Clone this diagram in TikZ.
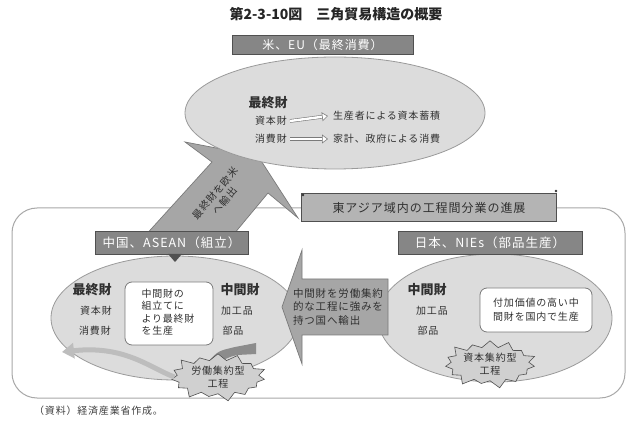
\documentclass[tikz,border=0pt]{standalone}
\usepackage{fontspec}
\newfontfamily\jp{Noto Sans CJK JP}
\newfontfamily\jpw{Noto Sans CJK JP}[LetterSpace=8]
\usetikzlibrary{shapes.symbols,arrows.meta}
\definecolor{txt}{HTML}{303030}
\definecolor{lblfill}{HTML}{868686}
\definecolor{lbledge}{HTML}{505050}
\definecolor{ellfill}{HTML}{DCDCDC}
\definecolor{elledge}{HTML}{9A9A9A}
\definecolor{arrfill}{HTML}{A6A6A6}
\definecolor{arredge}{HTML}{7A7A7A}
\definecolor{eafill}{HTML}{B4B4B4}
\definecolor{burstfill}{HTML}{D0D0D0}
\definecolor{outeredge}{HTML}{A8A8A8}
\definecolor{darkwedge}{HTML}{8C8C8C}
\definecolor{curvfill}{HTML}{BDBDBD}
\tikzset{
  lblbox/.style={draw=lbledge, line width=0.8pt, fill=lblfill, text=white,
    font=\jpw\fontsize{12.5}{14}\selectfont, inner sep=0pt},
  eabox/.style={draw=lbledge, line width=1pt, fill=eafill, text=txt,
    font=\jpw\fontsize{12}{14}\selectfont, inner sep=0pt},
  ellface/.style={draw=elledge, line width=0.8pt, fill=ellfill},
  blockarr/.style={draw=arredge, line width=0.7pt, fill=arrfill},
  outerframe/.style={draw=outeredge, line width=1pt, rounded corners=25pt},
  smalltxt/.style={font=\jpw\fontsize{10}{12.5}\selectfont, text=txt},
  boldtxt/.style={font=\jp\bfseries\fontsize{13}{15}\selectfont, text=txt},
  innerbox/.style={draw=arredge, line width=0.8pt, fill=white, rounded corners=7pt, inner sep=0pt},
  burstnode/.style={starburst, starburst points=15, starburst point height=9pt,
    draw=lbledge, line width=0.6pt, fill=burstfill, inner sep=1pt, align=center,
    font=\jpw\fontsize{10}{12.5}\selectfont, text=txt},
  hollowarr/.style={draw=arredge, double=white, double distance=2.4pt, line width=0.6pt,
    -{Triangle[open, length=6pt, width=9pt, fill=white]}},
}
\begin{document}
\begin{tikzpicture}[x=1pt,y=-1pt, every node/.style={font=\jp, text=txt, inner sep=0pt}]
\useasboundingbox[fill=white] (0,0) rectangle (632,430);

% title
\node[font=\jp\bfseries\fontsize{14}{16}\selectfont, text=black!85] (title) at (336,14) {第2-3-10図　三角貿易構造の概要};

% outer frame
\draw[outerframe] (12,208) rectangle (625,398);

% diagonal block arrow (to US/EU)
\draw[blockarr] (143,238) -- (212,162) -- (185,142) -- (258,156)
  -- (298,218) -- (268,193) -- (219,252) -- cycle;
\node[font=\jpw\fontsize{10}{12}\selectfont, rotate=50, align=center] (exp) at (220,197) {最終財を欧米\\へ輸出};

% top ellipse
\draw[ellface] (335,113) ellipse [x radius=150pt, y radius=56pt];
\node[lblbox, font=\jpw\fontsize{12}{14}\selectfont, minimum width=181pt, minimum height=19pt] (us) at (322.5,44.5) {米、EU（最終消費）};
\node[boldtxt] (fin) at (268,103) {最終財};
\node[smalltxt] (cap) at (271,121) {資本財};
\node[smalltxt, anchor=west] (acc) at (333,116) {生産者による資本蓄積};
\node[smalltxt] (con) at (271,139) {消費財};
\node[smalltxt, anchor=west] (hh) at (333,139) {家計、政府による消費};
\draw[hollowarr] ([xshift=3pt]cap.east) -- ([xshift=-5pt]acc.west);
\draw[hollowarr] ([xshift=3pt]con.east) -- ([xshift=-5pt]hh.west);

% East Asia box
\node[eabox, minimum width=255pt, minimum height=28pt] (ea) at (429,208) {東アジア域内の工程間分業の進展};
\fill[black!80] (303,195) circle (1.3pt) (556,191) circle (1.3pt);

% left and right ellipses
\draw[ellface] (175,318) ellipse [x radius=124pt, y radius=62pt];
\draw[ellface] (495,318) ellipse [x radius=117pt, y radius=64pt];

% left block arrow
\draw[blockarr] (282,307) -- (302,250) -- (302,279) -- (388,279) -- (388,335)
  -- (302,335) -- (302,364) -- cycle;
\node[smalltxt, align=left, font=\jpw\fontsize{10.5}{13.5}\selectfont] (mid) at (338,307) {中間財を労働集約\\的な工程に強みを\\持つ国へ輸出};

% labels
\node[lblbox, minimum width=153pt, minimum height=23pt] (cn) at (171.5,242.5) {中国、ASEAN（組立）};
\fill[lbledge] (168,254) -- (182,254) -- (175,262) -- cycle;
\node[lblbox, minimum width=184pt, minimum height=23pt] (jp) at (490,242.5) {日本、NIEs（部品生産）};

% left ellipse contents
\node[boldtxt] (lfin) at (92,290) {最終財};
\node[smalltxt] (lcap) at (96,311) {資本財};
\node[smalltxt] (lcon) at (95,331) {消費財};
\node[innerbox, minimum width=88pt, minimum height=63pt] (lbox) at (169,313.5) {};
\node[smalltxt, align=left] (ltxt) at (168,312) {中間財の\\組立てに\\より最終財\\を生産};
\node[boldtxt] (lmid) at (240,290) {中間財};
\node[smalltxt] (lproc) at (237,311) {加工品};
\node[smalltxt] (lpart) at (233,331) {部品};

% curved arrows around labour-intensive burst
\fill[darkwedge] (208,362) .. controls (218,351) .. (235,347) -- (256,343) -- (256,354)
  -- (237,355) .. controls (226,358) .. (215,367) -- cycle;
\node[burstnode, minimum width=100pt, minimum height=50pt] (lburst) at (218,377) {労働集約型\\工程};
\draw[line width=5pt, curvfill, -{Triangle[length=12pt, width=15pt]}]
  (lburst.west) .. controls (150,368) and (125,345) .. (62,352);

% right ellipse contents
\node[boldtxt] (rmid) at (427,290) {中間財};
\node[smalltxt] (rproc) at (432,311) {加工品};
\node[smalltxt] (rpart) at (428,331) {部品};
\node[innerbox, minimum width=112pt, minimum height=44pt, align=center,
  font=\jpw\fontsize{10}{14}\selectfont] (rbox) at (536,310) {付加価値の高い中\\間財を国内で生産};
\node[burstnode, minimum width=92pt, minimum height=46pt] (rburst) at (490,364) {資本集約型\\工程};

% source
\node[anchor=west, font=\jpw\fontsize{10}{12}\selectfont, text=black!75] (src) at (34,411) {（資料）経済産業省作成。};
\end{tikzpicture}
\end{document}
